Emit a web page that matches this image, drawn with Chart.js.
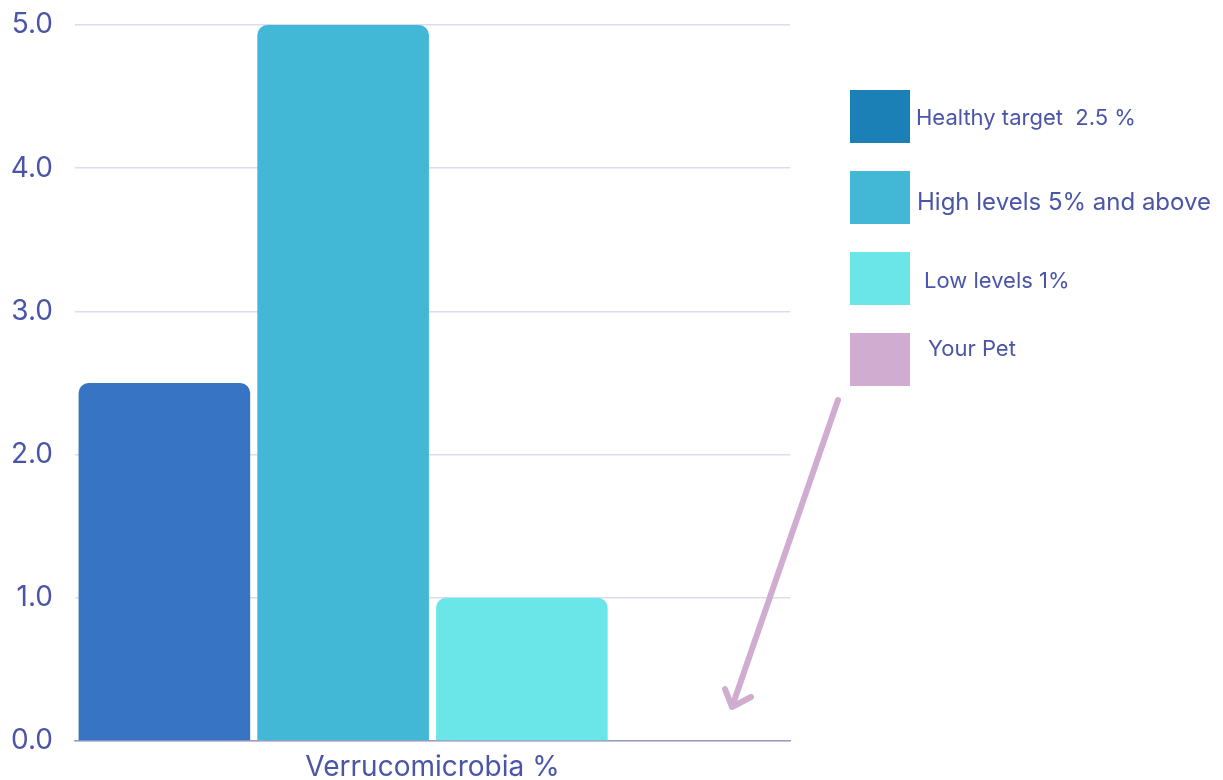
<!DOCTYPE html>
<html>
<head>
<meta charset="utf-8">
<script src="https://cdn.jsdelivr.net/npm/chart.js@4.4.1/dist/chart.umd.min.js"></script>
<style>
  html, body { margin: 0; padding: 0; background: #fff; }
  #wrap { position: relative; width: 1223px; height: 780px; }
  #legend { position: absolute; left: 850px; top: 0; font-family: Inter, "Noto Sans", sans-serif; color: #4a55a8; }
  .item { position: absolute; left: 0; width: 380px; height: 53px; }
  .swatch { position: absolute; left: 0; top: 0; width: 60px; height: 53px; }
  .label { position: absolute; line-height: 53px; white-space: pre; }
</style>
</head>
<body>
<div id="wrap">
  <canvas id="myChart" width="1223" height="780"></canvas>
  <div id="legend"></div>
</div>
<script>
const categories = ['Verrucomicrobia %'];
const seriesNames = ['Healthy target  2.5 %', 'High levels 5% and above', 'Low levels 1%', 'Your Pet'];
const seriesValues = [[2.5], [5.0], [1.0], [null]];
const barColors = ['#3874c4', '#42b8d6', '#6be6e8', '#d0acd0'];
const legendColors = ['#1b80b5', '#42b8d6', '#6be6e8', '#d0acd0'];
const yTicks = [0, 1, 2, 3, 4, 5];

const textColor = '#4a55a8';
const fontFamily = 'Inter, "Noto Sans", sans-serif';

// lavender arrow pointing down at the empty "Your Pet" slot
const arrowPlugin = {
    id: 'petArrow',
    afterDraw(chart) {
        const ctx = chart.ctx;
        const x0 = 838, y0 = 400, x1 = 732, y1 = 707;
        ctx.save();
        ctx.strokeStyle = '#d0acd0';
        ctx.lineWidth = 6;
        ctx.lineCap = 'round';
        ctx.lineJoin = 'round';
        ctx.beginPath();
        ctx.moveTo(x0, y0);
        ctx.lineTo(x1, y1);
        ctx.moveTo(725, 689);
        ctx.lineTo(x1, y1);
        ctx.lineTo(751, 697);
        ctx.stroke();
        ctx.restore();
    }
};

const ctx = document.getElementById('myChart');

const myChart = new Chart(ctx, {
    type: 'bar',
    data: {
        labels: categories,
        datasets: seriesNames.map((name, i) => ({
            label: name,
            data: seriesValues[i],
            backgroundColor: barColors[i],
            borderRadius: { topLeft: 10, topRight: 10 },
            borderSkipped: 'bottom',
            categoryPercentage: 1,
            barPercentage: 0.96
        }))
    },
    options: {
        responsive: false,
        animation: false,
        layout: { padding: { top: 25, right: 433, left: 0, bottom: 0 } },
        plugins: {
            legend: { display: false },
            tooltip: { enabled: false }
        },
        scales: {
            x: {
                grid: { display: false, drawTicks: false },
                border: { display: true, color: '#9a9cc4', width: 1.5 },
                ticks: {
                    color: textColor,
                    padding: 10,
                    font: { family: fontFamily, size: 28 }
                },
                afterFit: (s) => { s.height = 39; }
            },
            y: {
                min: 0,
                max: 5,
                afterBuildTicks: (s) => { s.ticks = yTicks.map(v => ({ value: v })); },
                afterFit: (s) => { s.width = 75; s.paddingTop = 0; s.paddingBottom = 0; },
                grid: { color: '#dcdcee', lineWidth: 1.5, drawTicks: false },
                border: { display: false },
                ticks: {
                    color: textColor,
                    padding: 22,
                    font: { family: fontFamily, size: 28 },
                    callback: (v) => Number(v).toFixed(1)
                }
            }
        }
    },
    plugins: [arrowPlugin]
});

// legend boxes on the right
const legendTops = [90, 171, 252, 333];
const legendSizes = [22, 24, 22, 22];
const labelLefts = [66, 67, 74, 78];
const labelShifts = [1, 4, 2, -11];
const legendEl = document.getElementById('legend');
seriesNames.forEach((name, i) => {
    const item = document.createElement('div');
    item.className = 'item';
    item.style.top = legendTops[i] + 'px';
    const sw = document.createElement('div');
    sw.className = 'swatch';
    sw.style.background = legendColors[i];
    const lb = document.createElement('div');
    lb.className = 'label';
    lb.style.left = labelLefts[i] + 'px';
    lb.style.top = labelShifts[i] + 'px';
    lb.style.fontSize = legendSizes[i] + 'px';
    lb.textContent = name;
    item.appendChild(sw);
    item.appendChild(lb);
    legendEl.appendChild(item);
});
</script>
</body>
</html>
